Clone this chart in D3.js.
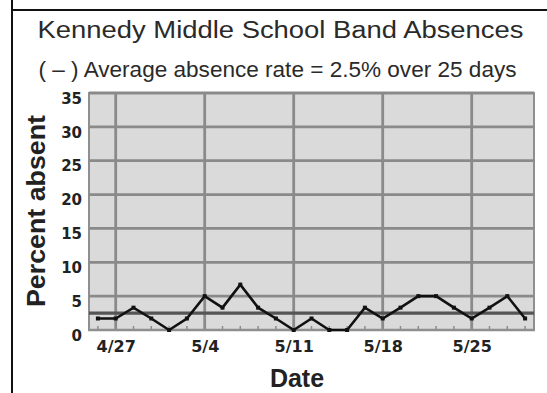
<!DOCTYPE html>
<html>
<head>
<meta charset="utf-8">
<script src="https://cdn.jsdelivr.net/npm/d3@7"></script>
<style>
  html, body { margin: 0; padding: 0; background: #fff; }
  svg { display: block; }
</style>
</head>
<body>
<svg id="chart" width="547" height="393"></svg>
<script>
// ---- data ----
const days = ["4/24","4/27","4/28","4/29","4/30","5/1","5/4","5/5","5/6","5/7","5/8",
              "5/11","5/12","5/13","5/14","5/15","5/18","5/19","5/20","5/21","5/22",
              "5/25","5/26","5/27","5/28"];
const percentAbsent = [1.7, 1.7, 3.3, 1.7, 0, 1.7, 5, 3.3, 6.7, 3.3, 1.7,
                       0, 1.7, 0, 0, 3.3, 1.7, 3.3, 5, 5, 3.3,
                       1.7, 3.3, 5, 1.7];
const weekLabels = ["4/27","5/4","5/11","5/18","5/25"];
const yTicks = [0, 5, 10, 15, 20, 25, 30, 35];
const averageRate = 2.5;
const titleText = "Kennedy Middle School Band Absences";
const subtitleText = "( \u2013 ) Average absence rate = 2.5% over 25 days";
const xTitle = "Date";
const yTitle = "Percent absent";

// ---- layout ----
const svg = d3.select("#chart");
const L = 89, R = 534, T = 93, B = 330;

const x = d3.scalePoint().domain(days).range([L, R]).padding(0.5);
const y = d3.scaleLinear().domain([0, 35]).range([B, T]);

// outer frame
svg.append("line").attr("x1", 12).attr("x2", 12).attr("y1", 0).attr("y2", 393)
  .attr("stroke", "#111").attr("stroke-width", 2);
svg.append("line").attr("x1", 12).attr("x2", 547).attr("y1", 10).attr("y2", 10)
  .attr("stroke", "#111").attr("stroke-width", 2);

// titles
svg.append("text").attr("x", 280.5).attr("y", 38)
  .attr("text-anchor", "middle")
  .attr("font-family", "'Liberation Sans', Arial, sans-serif")
  .attr("font-size", 23).attr("fill", "#2a2a2a")
  .attr("textLength", 486).attr("lengthAdjust", "spacingAndGlyphs")
  .text(titleText);
svg.append("text").attr("x", 277.5).attr("y", 77)
  .attr("text-anchor", "middle")
  .attr("font-family", "'Liberation Sans', Arial, sans-serif")
  .attr("font-size", 22).attr("fill", "#2a2a2a")
  .attr("textLength", 478).attr("lengthAdjust", "spacingAndGlyphs")
  .text(subtitleText);

// plot background
svg.append("rect").attr("x", L).attr("y", T).attr("width", R - L).attr("height", B - T)
  .attr("fill", "#dadada").attr("stroke", "#8f8f8f").attr("stroke-width", 2);

// horizontal gridlines
svg.append("g").selectAll("line").data(yTicks.filter(d => d > 0)).join("line")
  .attr("x1", L).attr("x2", R)
  .attr("y1", d => y(d)).attr("y2", d => y(d))
  .attr("stroke", "#8a8a8a").attr("stroke-width", 2.8);

// vertical week gridlines
svg.append("g").selectAll("line").data(weekLabels).join("line")
  .attr("x1", d => x(d)).attr("x2", d => x(d))
  .attr("y1", T).attr("y2", B)
  .attr("stroke", "#8a8a8a").attr("stroke-width", 2.8);

// small day ticks along the bottom
svg.append("g").selectAll("line").data(days).join("line")
  .attr("x1", d => x(d)).attr("x2", d => x(d))
  .attr("y1", B - 4).attr("y2", B)
  .attr("stroke", "#8c8c8c").attr("stroke-width", 1.5);

// average line
svg.append("line").attr("x1", L).attr("x2", R)
  .attr("y1", y(averageRate)).attr("y2", y(averageRate))
  .attr("stroke", "#555").attr("stroke-width", 3.2);

// bottom axis line
svg.append("line").attr("x1", L - 1).attr("x2", R + 1).attr("y1", B).attr("y2", B)
  .attr("stroke", "#8f8f8f").attr("stroke-width", 2.5);

// data line
const line = d3.line().x((d, i) => x(days[i])).y(d => y(d));
svg.append("path").datum(percentAbsent)
  .attr("d", line).attr("fill", "none")
  .attr("stroke", "#111").attr("stroke-width", 2.6).attr("stroke-linejoin", "miter");
svg.append("g").selectAll("rect").data(percentAbsent).join("rect")
  .attr("x", (d, i) => x(days[i]) - 2).attr("y", d => y(d) - 2)
  .attr("width", 4).attr("height", 4).attr("fill", "#111");

// axes (text only)
const yAxis = d3.axisLeft(y).tickValues(yTicks).tickSize(0).tickPadding(0);
const gy = svg.append("g").attr("transform", `translate(82,0)`).call(yAxis);
gy.select(".domain").remove();
gy.selectAll("text").attr("font-family", "'DejaVu Sans', Verdana, sans-serif")
  .attr("font-weight", "bold").attr("font-size", 15).attr("fill", "#222")
  .attr("dy", "0.68em").attr("x", 0);

const xAxis = d3.axisBottom(x).tickValues(weekLabels).tickSize(0).tickPadding(0);
const gx = svg.append("g").attr("transform", `translate(0,${B})`).call(xAxis);
gx.select(".domain").remove();
gx.selectAll("text").attr("font-family", "'DejaVu Sans', Verdana, sans-serif")
  .attr("font-weight", "bold").attr("font-size", 16).attr("fill", "#222")
  .attr("dy", null).attr("y", 22);

// axis titles
svg.append("text").attr("x", 297).attr("y", 387).attr("text-anchor", "middle")
  .attr("font-family", "'Liberation Sans', Arial, sans-serif")
  .attr("font-weight", "bold").attr("font-size", 25).attr("fill", "#222")
  .text(xTitle);
svg.append("text").attr("transform", "translate(45,211) rotate(-90)")
  .attr("text-anchor", "middle")
  .attr("font-family", "'Liberation Sans', Arial, sans-serif")
  .attr("font-weight", "bold").attr("font-size", 25).attr("fill", "#222")
  .attr("textLength", 192).attr("lengthAdjust", "spacingAndGlyphs")
  .text(yTitle);
</script>
</body>
</html>
